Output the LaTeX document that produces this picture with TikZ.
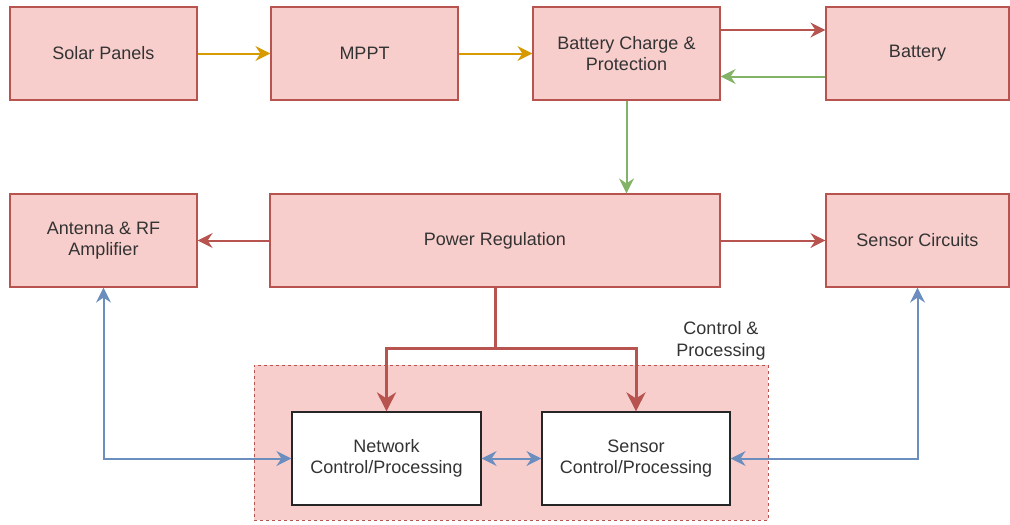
\documentclass[tikz,border=0pt]{standalone}
\usepackage{fontspec}
\setmainfont{Liberation Sans}
\usetikzlibrary{arrows.meta}
\definecolor{fillred}{HTML}{F8CECC}
\definecolor{strokered}{HTML}{B85450}
\definecolor{orangeA}{HTML}{D79B00}
\definecolor{greenA}{HTML}{82B366}
\definecolor{blueA}{HTML}{6C8EBF}
\definecolor{textgray}{HTML}{333333}
\begin{document}
\begin{tikzpicture}[x=1pt,y=-1pt,
  lbl/.style={font=\fontsize{18}{21.5}\selectfont, text=textgray, align=center},
  box/.style={lbl, draw=strokered, fill=fillred, line width=1.2pt, minimum width=187pt, minimum height=93pt, inner sep=0pt},
  wbox/.style={lbl, draw=black!85, fill=white, line width=1.2pt, minimum width=188pt, minimum height=93pt, inner sep=0pt},
  arr/.style={line width=2pt, -{Stealth[length=15pt,width=15pt,inset=5pt]}},
  tharr/.style={line width=3pt, strokered, -{Stealth[length=19pt,width=19pt,inset=6pt]}},
  barr/.style={line width=2pt, blueA, {Stealth[length=15pt,width=15pt,inset=5pt]}-{Stealth[length=15pt,width=15pt,inset=5pt]}},
]
\useasboundingbox (0,0) rectangle (1010,525);
% container
\node[draw=strokered, dashed, fill=fillred, line width=0.8pt, minimum width=514pt, minimum height=155pt, inner sep=0pt] (cont) at (511,442.5) {};
\node[lbl] (contlbl) at (721,341) {Control \&\\Processing};
% top row
\node[box] (solar) at (103.5,53.5) {Solar Panels};
\node[box] (mppt) at (364.5,53.5) {MPPT};
\node[box] (bcp) at (626.5,53.5) {Battery Charge \&\\Protection};
\node[box, minimum width=183pt] (battery) at (917.5,53.5) {Battery};
% middle row
\node[box] (antenna) at (103.5,240.5) {Antenna \& RF\\Amplifier};
\node[box, minimum width=450pt] (power) at (495,240.5) {Power Regulation};
\node[box, minimum width=183pt] (sensorC) at (917.5,240.5) {Sensor Circuits};
% bottom
\node[wbox, minimum width=189pt] (net) at (386.5,458.5) {Network\\Control/Processing};
\node[wbox] (sctrl) at (636,458.5) {Sensor\\Control/Processing};
\coordinate (split) at (495,348);
% arrows
\draw[arr, orangeA] (solar) -- (mppt);
\draw[arr, orangeA] (mppt) -- (bcp);
\draw[arr, strokered] ([yshift=23.5pt]bcp.east) -- ([yshift=23.5pt]battery.west);
\draw[arr, greenA] ([yshift=-23pt]battery.west) -- ([yshift=-23pt]bcp.east);
\draw[arr, greenA] (bcp.south) -- (bcp.south |- power.north);
\draw[arr, strokered] (power.west) -- (antenna.east);
\draw[arr, strokered] (power.east) -- (sensorC.west);
\draw[tharr] (power.south) -- (split) -| (net.north);
\draw[tharr] (split) -| (sctrl.north);
\draw[barr] (antenna.south) |- (net.west);
\draw[barr] (net.east) -- (sctrl.west);
\draw[barr] (sensorC.south) |- (sctrl.east);
\end{tikzpicture}
\end{document}
